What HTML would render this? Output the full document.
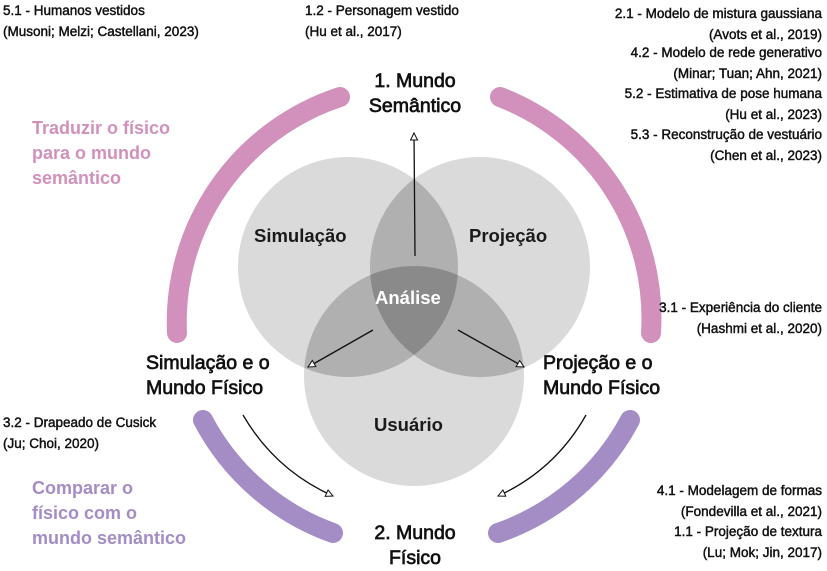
<!DOCTYPE html>
<html><head><meta charset="utf-8"><style>
body{margin:0;width:827px;height:571px;background:#fff;overflow:hidden;position:relative;font-family:"Liberation Sans",sans-serif;color:#111}
.t{position:absolute;font-size:13.5px;line-height:20.5px;white-space:nowrap;-webkit-text-stroke:0.45px #111}
.r{text-align:right}
.b{position:absolute;font-size:19.5px;line-height:25px;white-space:nowrap;-webkit-text-stroke:0.7px #111}
.c{text-align:center}
.v{position:absolute;font-size:18.5px;font-weight:bold;color:#1a1a1a;white-space:nowrap}
.p{position:absolute;font-size:18px;line-height:25px;font-weight:bold;white-space:nowrap}
</style></head><body>
<svg width="827" height="571" style="position:absolute;left:0;top:0">
<defs><marker id="a" markerWidth="10" markerHeight="10" refX="8" refY="4" orient="auto" markerUnits="userSpaceOnUse"><path d="M1,0.5 L8,4 L1,7.5 Z" fill="#fff" stroke="#111" stroke-width="1"/></marker>
<clipPath id="cA"><circle cx="348" cy="267" r="110"/></clipPath>
<clipPath id="cB"><circle cx="480" cy="267" r="110"/></clipPath>
<clipPath id="cC"><circle cx="414" cy="376" r="110"/></clipPath>
</defs>
<g fill="none" stroke-width="20" stroke-linecap="round">
<path d="M177,333 A237,237 0 0 1 340,97" stroke="#d291bc"/>
<path d="M500,97 A237,237 0 0 1 651,333" stroke="#d291bc"/>
<path d="M203,420 A237,237 0 0 0 333,533" stroke="#a48cc4"/>
<path d="M630,420 A237,237 0 0 1 498,533" stroke="#a48cc4"/>
</g>
<circle cx="348" cy="267" r="110" fill="#dadada"/>
<circle cx="480" cy="267" r="110" fill="#dadada"/>
<circle cx="414" cy="376" r="110" fill="#dadada"/>
<g fill="#b0b0b0">
<circle cx="480" cy="267" r="110" clip-path="url(#cA)"/>
<circle cx="414" cy="376" r="110" clip-path="url(#cA)"/>
<circle cx="414" cy="376" r="110" clip-path="url(#cB)"/>
</g>
<g clip-path="url(#cA)"><circle cx="414" cy="376" r="110" fill="#8a8a8a" clip-path="url(#cB)"/></g>
<g stroke="#111" stroke-width="1.3" fill="none" marker-end="url(#a)">
<line x1="415" y1="256" x2="414" y2="133"/>
<line x1="373" y1="330" x2="308" y2="367"/>
<line x1="458" y1="330" x2="524" y2="367"/>
<path d="M243,415 Q275,470 333,496"/>
<path d="M586,415 Q555,470 498,496"/>
</g>
</svg>
<div class="t" style="left:3px;top:1px">5.1 - Humanos vestidos<br>(Musoni; Melzi; Castellani, 2023)</div>
<div class="t" style="left:305px;top:1px">1.2 - Personagem vestido<br>(Hu et al., 2017)</div>
<div class="t r" style="right:5px;top:4px">2.1 - Modelo de mistura gaussiana<br>(Avots et al., 2019)</div>
<div class="t r" style="right:5px;top:43px">4.2 - Modelo de rede generativo<br>(Minar; Tuan; Ahn, 2021)</div>
<div class="t r" style="right:5px;top:84px">5.2 - Estimativa de pose humana<br>(Hu et al., 2023)</div>
<div class="t r" style="right:5px;top:125px">5.3 - Reconstrução de vestuário<br>(Chen et al., 2023)</div>
<div class="t r" style="right:5px;top:298px">3.1 - Experiência do cliente<br>(Hashmi et al., 2020)</div>
<div class="t" style="left:3px;top:413px">3.2 - Drapeado de Cusick<br>(Ju; Choi, 2020)</div>
<div class="t r" style="right:5px;top:481px">4.1 - Modelagem de formas<br>(Fondevilla et al., 2021)</div>
<div class="t r" style="right:5px;top:522px">1.1 - Projeção de textura<br>(Lu; Mok; Jin, 2017)</div>
<div class="p" style="left:32px;top:116px;color:#d291bc">Traduzir o físico<br>para o mundo<br>semântico</div>
<div class="p" style="left:32px;top:476px;color:#a48cc4">Comparar o<br>físico com o<br>mundo semântico</div>
<div class="b c" style="left:350px;top:69px;width:130px">1. Mundo<br>Semântico</div>
<div class="b c" style="left:350px;top:521px;width:130px">2. Mundo<br>Físico</div>
<div class="b" style="left:146px;top:351px">Simulação e o<br>Mundo Físico</div>
<div class="b" style="left:543px;top:351px">Projeção e o<br>Mundo Físico</div>
<div class="v" style="left:254px;top:225px">Simulação</div>
<div class="v" style="left:469px;top:225px">Projeção</div>
<div class="v" style="left:374px;top:414px">Usuário</div>
<div class="v" style="left:375px;top:287px;color:#fff">Análise</div>
</body></html>
